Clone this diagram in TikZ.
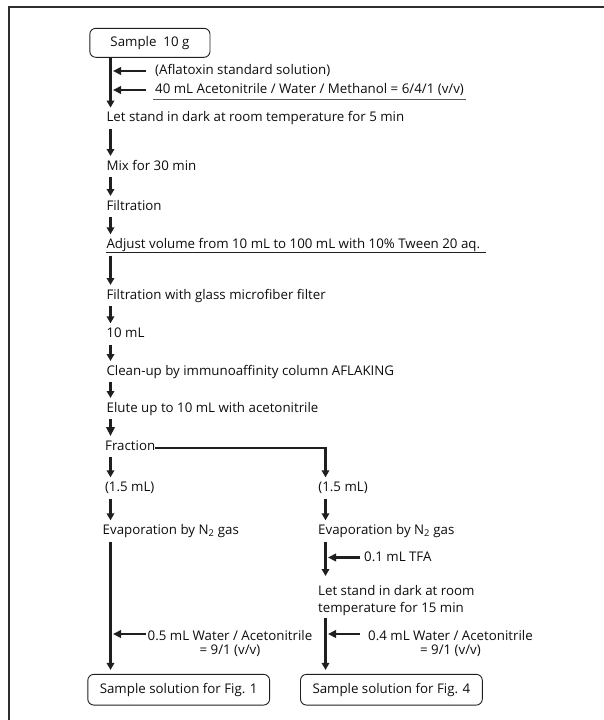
\documentclass[tikz,border=0pt]{standalone}
\usepackage{fontspec}
\setmainfont{Open Sans}
\usepackage{tikz}
\usetikzlibrary{arrows.meta}
\tikzset{every node/.style={font=\fontsize{13.3}{14}\selectfont, inner sep=0pt, text=textcol}}
\colorlet{linecol}{black!88}
\colorlet{textcol}{black!95}
\colorlet{framecol}{black!82}
\colorlet{rulecol}{black!65}
\tikzset{
  stage/.style={anchor=west, text height=10pt, text depth=3pt},
  endbox/.style={draw=linecol, line width=0.9pt, rounded corners=6pt,
    minimum width=181.8pt, minimum height=30.7pt},
  flow/.style={-{Triangle[length=7pt,width=7.5pt]}, line width=2.3pt, draw=linecol,
    shorten <=4pt, shorten >=4pt},
  feed/.style={-{Triangle[length=8pt,width=7.5pt]}, line width=2.2pt, draw=linecol},
  uline/.style={line width=0.9pt, draw=rulecol},
}

\begin{document}
\begin{tikzpicture}[x=1pt, y=-1pt]

  \useasboundingbox (0,0) rectangle (604,720);

  % Frame (top and left edges).
  \draw[framecol, line width=1.1pt] (9,720) -- (9,7) -- (604,7);

  % Arrow columns.
  \coordinate (colL) at (110.5,0);
  \coordinate (colR) at (325.5,0);
  \coordinate (tipL) at (113,0);
  \coordinate (tipR) at (328,0);

  % Start box.
  \node[endbox, minimum width=120.2pt, minimum height=29pt] (sample) at (149.9,42.8)
    {Sample~ 10 g};

  % Reagents added to the sample.
  \node[stage] (aflatoxin) at (155,71) {(Aflatoxin standard solution)};
  \node[stage] (solvent) at (155,90) {40 mL Acetonitrile / Water / Methanol = 6/4/1 (v/v)};
  \draw[uline] ([xshift=-2pt, yshift=-2.5pt]solvent.south west)
    -- ([xshift=2pt, yshift=-2.5pt]solvent.south east);

  % Main column.
  \node[stage] (letstand) at (106.3,118.3) {Let stand in dark at room temperature for 5 min};
  \node[stage] (mix) at (106.3,166.7) {Mix for 30 min};
  \node[stage] (filtr) at (106.3,206.7) {Filtration};
  \node[stage] (adjust) at (106.3,245) {Adjust volume from 10 mL to 100 mL with 10\% Tween 20 aq.};
  \draw[uline, draw=linecol] ([yshift=-0.8pt]adjust.south west)
    -- ([xshift=6pt, yshift=-0.8pt]adjust.south east);
  \node[stage] (glassfilt) at (106.3,295.7) {Filtration with glass microfiber filter};
  \node[stage] (tenml) at (106.3,334) {10 mL};
  \node[stage] (cleanup) at (106.3,371.7) {Clean-up by immunoaffinity column AFLAKING};
  \node[stage] (elute) at (106.5,408.7) {Elute up to 10 mL with acetonitrile};
  \node[stage] (fraction) at (105,446.7) {Fraction};

  % Left branch.
  \node[stage] (volL) at (104.8,488) {(1.5 mL)};
  \node[stage] (evapL) at (102.5,531) {Evaporation by N\textsubscript{2} gas};
  \node[anchor=north west, align=center] (waterL) at (147.5,630)
    {0.5 mL Water / Acetonitrile\\= 9/1 (v/v)};
  \node[endbox] (solL) at (178.7,689.7) {Sample solution for Fig. 1};

  % Right branch.
  \node[stage] (volR) at (318.2,488) {(1.5 mL)};
  \node[stage] (evapR) at (318,531) {Evaporation by N\textsubscript{2} gas};
  \node[stage] (tfa) at (364,557.5) {0.1 mL TFA};
  \node[anchor=north west, align=left] (standR) at (318,585)
    {Let stand in dark at room\\[2.7pt]temperature for 15 min};
  \node[anchor=north west, align=center] (waterR) at (368,630)
    {0.4 mL Water / Acetonitrile\\= 9/1 (v/v)};
  \node[endbox] (solR) at (391.4,689.7) {Sample solution for Fig. 4};

  % Main arrows.
  \draw[flow, shorten <=0pt] (sample.south -| colL) -- (letstand.north -| colL);
  \foreach \a/\b in {letstand/mix, mix/filtr, filtr/adjust, adjust/glassfilt,
      glassfilt/tenml, tenml/cleanup, cleanup/elute, fraction/volL, volL/evapL} {
    \draw[flow] (\a.south -| colL) -- (\b.north -| colL);
  }
  \draw[flow, line width=3.2pt, -{Triangle[length=9pt,width=8.5pt]}]
    (elute.south -| colL) -- (fraction.north -| colL);
  \draw[flow] (evapL.south -| colL) -- (solL.north -| colL);

  % Split to the right branch.
  \coordinate (split) at ([yshift=-1.6pt]fraction.east -| colR);
  \draw[linecol, line width=1.7pt] ([yshift=-1.6pt]fraction.east) -- ([xshift=1.15pt]split);
  \draw[flow, shorten <=-0.85pt] (split) -- (volR.north -| colR);
  \draw[flow] (volR.south -| colR) -- (evapR.north -| colR);
  \draw[flow, shorten >=9pt] (evapR.south -| colR) -- (standR.north -| colR);
  \draw[flow, shorten <=2.5pt] (standR.south -| colR) -- (solR.north -| colR);

  % Side feeds.
  \coordinate (wl) at ([yshift=-4pt]waterL.north west);
  \coordinate (wr) at ([yshift=-4pt]waterR.north west);
  \draw[feed] ([xshift=-9pt]aflatoxin.west) -- (aflatoxin.west -| tipL);
  \draw[feed] ([xshift=-9pt]solvent.west) -- (solvent.west -| tipL);
  \draw[feed] ([xshift=-4pt]tfa.west) -- (tfa.west -| tipR);
  \draw[feed] ([xshift=-2pt]wl) -- (wl -| tipL);
  \draw[feed] ([xshift=-8pt]wr) -- (wr -| tipR);

\end{tikzpicture}
\end{document}
